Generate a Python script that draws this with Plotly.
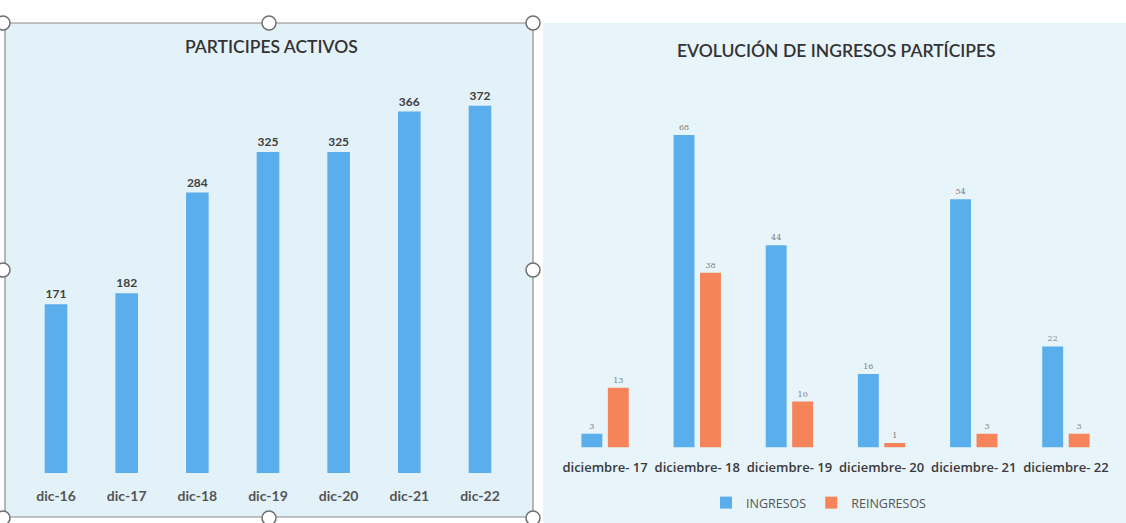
import plotly.graph_objects as go

W, H = 1126, 523

# ---- data ----
left_categories = ["dic-16", "dic-17", "dic-18", "dic-19", "dic-20", "dic-21", "dic-22"]
participes_activos = [171, 182, 284, 325, 325, 366, 372]

right_categories = ["diciembre- 17", "diciembre- 18", "diciembre- 19",
                    "diciembre- 20", "diciembre- 21", "diciembre- 22"]
ingresos = [3, 68, 44, 16, 54, 22]
reingresos = [13, 38, 10, 1, 3, 3]

BLUE = "#5aaeec"
ORANGE = "#f5845a"
FONT = "Lato"


def px(x):
    return x / W


def py(y):
    return 1 - y / H


fig = go.Figure()

fig.add_trace(go.Bar(
    x=left_categories, y=participes_activos, xaxis="x", yaxis="y",
    marker=dict(color=BLUE, line=dict(width=0)), width=0.32,
    text=participes_activos, textposition="outside", cliponaxis=False,
    textfont=dict(family=FONT, size=12, color="#404040", weight="bold"),
    showlegend=False, name="PARTICIPES ACTIVOS",
))

fig.add_trace(go.Bar(
    x=right_categories, y=ingresos, xaxis="x2", yaxis="y2",
    marker=dict(color=BLUE, line=dict(width=0)), name="INGRESOS",
    text=ingresos, textposition="outside", cliponaxis=False,
    textfont=dict(family="DejaVu Serif", size=8, color="#7f7f7f"),
))
fig.add_trace(go.Bar(
    x=right_categories, y=reingresos, xaxis="x2", yaxis="y2",
    marker=dict(color=ORANGE, line=dict(width=0)), name="REINGRESOS",
    text=reingresos, textposition="outside", cliponaxis=False,
    textfont=dict(family="DejaVu Serif", size=8, color="#7f7f7f"),
))

shapes = [
    # backgrounds
    dict(type="rect", xref="paper", yref="paper", x0=px(5), x1=px(533), y0=py(517), y1=py(23),
         fillcolor="#e3f1f9", line=dict(width=0), layer="below"),
    dict(type="rect", xref="paper", yref="paper", x0=px(543), x1=px(1126), y0=py(523), y1=py(23),
         fillcolor="#e7f4fa", line=dict(width=0), layer="below"),
    # left box border
    dict(type="rect", xref="paper", yref="paper", x0=px(5), x1=px(533), y0=py(517), y1=py(23),
         fillcolor="rgba(0,0,0,0)", line=dict(width=1.2, color="#8a8a8a"), layer="above"),
]
# selection handles
for hx, hy in [(3, 23), (269, 23), (533, 23), (3, 270), (533, 270),
               (3, 518), (269, 518), (533, 518)]:
    r = 7
    shapes.append(dict(type="circle", xref="paper", yref="paper",
                       x0=px(hx - r), x1=px(hx + r), y0=py(hy + r), y1=py(hy - r),
                       fillcolor="white", line=dict(width=1.5, color="#6f6f6f"), layer="above"))

annotations = [
    dict(text="PARTICIPES ACTIVOS", x=px(271), y=py(46), xref="paper", yref="paper",
         xanchor="center", yanchor="middle",
         showarrow=False, font=dict(family=FONT, size=17.5, color="#333333", weight=600)),
    dict(text="EVOLUCIÓN DE INGRESOS PARTÍCIPES", x=px(836), y=py(50), xref="paper", yref="paper",
         xanchor="center", yanchor="middle",
         showarrow=False, font=dict(family=FONT, size=17.5, color="#333333", weight=600)),
]

fig.update_layout(
    width=W, height=H,
    margin=dict(l=0, r=0, t=0, b=0),
    paper_bgcolor="white", plot_bgcolor="rgba(0,0,0,0)",
    barmode="group", bargap=0.426, bargroupgap=0.21,
    shapes=shapes, annotations=annotations,
    xaxis=dict(domain=[px(20.7), px(515.3)], anchor="y", showgrid=False, zeroline=False,
               showline=False, ticks="", ticklabelstandoff=13,
               tickfont=dict(family=FONT, size=14, color="#555555", weight="bold")),
    yaxis=dict(domain=[py(473), py(78)], anchor="x", range=[0, 400], visible=False),
    xaxis2=dict(domain=[px(559), px(1112)], anchor="y2", showgrid=False, zeroline=False,
                showline=False, ticks="", ticklabelstandoff=10,
                tickfont=dict(family="Open Sans", size=13, color="#3a3a3a", weight=600)),
    yaxis2=dict(domain=[py(447.5), py(102.8)], anchor="x2", range=[0, 75], visible=False),
    legend=dict(orientation="h", x=px(819), xanchor="center", y=py(503), yanchor="middle",
                bgcolor="rgba(0,0,0,0)", font=dict(family="Open Sans", size=12.5, color="#555555"),
                tracegroupgap=0),
)

fig.write_html("out.html", config={"displayModeBar": False},
               post_script="document.body.style.margin='0';document.body.style.overflow='hidden';")
